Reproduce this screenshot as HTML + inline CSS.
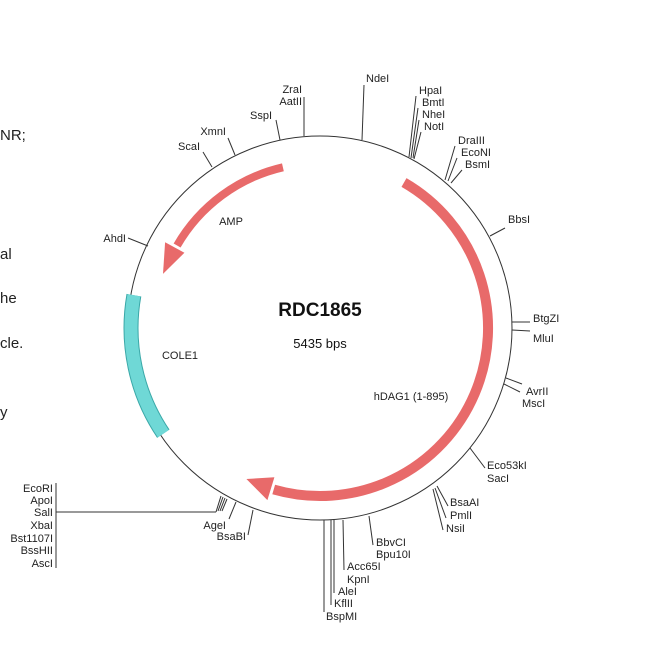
<!DOCTYPE html>
<html><head><meta charset="utf-8"><style>
html,body{margin:0;padding:0;background:#fff;width:650px;height:650px;overflow:hidden}
svg text{font-family:"Liberation Sans",sans-serif}
</style></head><body>
<svg width="650" height="650" viewBox="0 0 650 650" xmlns="http://www.w3.org/2000/svg">
<g font-size="15" fill="#222">
<text x="0" y="140">NR;</text>
<text x="0" y="259">al</text>
<text x="0" y="303">he</text>
<text x="0" y="348">cle.</text>
<text x="0" y="417">y</text>
</g>
<circle cx="320" cy="328" r="192" fill="none" stroke="#333" stroke-width="1"/>
<!-- COLE1 -->
<path d="M133.9,295.2 A189,189 0 0 0 163.3,433.7" fill="none" stroke="#3aa8a8" stroke-width="15"/>
<path d="M133.9,295.2 A189,189 0 0 0 163.3,433.7" fill="none" stroke="#6fd8d6" stroke-width="13"/>
<!-- AMP -->
<path d="M282.9,167.3 A165,165 0 0 0 177.1,245.5" fill="none" stroke="#e86a6a" stroke-width="8"/>
<polygon points="184.4,252.8 165.1,242.2 163,273.9" fill="#e86a6a"/>
<!-- hDAG1 -->
<path d="M404,182.5 A168,168 0 0 1 273.7,489.5" fill="none" stroke="#e86a6a" stroke-width="10"/>
<polygon points="274.4,477.2 267.4,500.1 246.4,479" fill="#e86a6a"/>
<g stroke="#333" stroke-width="1" fill="none">
<line x1="362" y1="140" x2="364" y2="85"/>
<line x1="304" y1="136" x2="304" y2="97"/>
<line x1="280" y1="140" x2="276" y2="120"/>
<line x1="235" y1="155" x2="228" y2="138"/>
<line x1="212" y1="167" x2="203" y2="152"/>
<line x1="409" y1="157" x2="416" y2="96"/>
<line x1="411" y1="158" x2="418" y2="108"/>
<line x1="413" y1="158" x2="419" y2="120"/>
<line x1="414" y1="159" x2="421" y2="132"/>
<line x1="445" y1="180" x2="455" y2="146"/>
<line x1="448" y1="181" x2="457" y2="158"/>
<line x1="451" y1="183" x2="462" y2="170"/>
<line x1="490" y1="236" x2="505" y2="228"/>
<line x1="512" y1="322" x2="530" y2="322"/>
<line x1="512" y1="330" x2="530" y2="331"/>
<line x1="506" y1="378" x2="522" y2="384"/>
<line x1="504" y1="384" x2="520" y2="392"/>
<line x1="470" y1="448" x2="485" y2="468"/>
<line x1="437" y1="486" x2="448" y2="506"/>
<line x1="435" y1="488" x2="446" y2="518"/>
<line x1="433" y1="489" x2="443" y2="530"/>
<line x1="369" y1="516" x2="373" y2="545"/>
<line x1="343" y1="520" x2="344" y2="570"/>
<line x1="334" y1="520" x2="334" y2="593"/>
<line x1="331" y1="520" x2="331" y2="605"/>
<line x1="324" y1="520" x2="324" y2="612"/>
<line x1="253" y1="510" x2="248" y2="535"/>
<line x1="236" y1="502" x2="229" y2="519"/>
<line x1="148" y1="246" x2="128" y2="238"/>
<line x1="221" y1="496" x2="216" y2="512"/>
<line x1="223" y1="497" x2="218" y2="511"/>
<line x1="225" y1="498" x2="220" y2="511"/>
<line x1="227" y1="499" x2="222" y2="511"/>
<line x1="216" y1="512" x2="56" y2="512"/>
<line x1="56" y1="483" x2="56" y2="568"/>
</g>
<g font-size="11" fill="#222">
<text x="366" y="82">NdeI</text>
<text x="302" y="93" text-anchor="end">ZraI</text>
<text x="302" y="105" text-anchor="end">AatII</text>
<text x="272" y="119" text-anchor="end">SspI</text>
<text x="226" y="135" text-anchor="end">XmnI</text>
<text x="200" y="150" text-anchor="end">ScaI</text>
<text x="419" y="94">HpaI</text>
<text x="422" y="106">BmtI</text>
<text x="422" y="118">NheI</text>
<text x="424" y="130">NotI</text>
<text x="458" y="144">DraIII</text>
<text x="461" y="156">EcoNI</text>
<text x="465" y="168">BsmI</text>
<text x="508" y="223">BbsI</text>
<text x="533" y="322">BtgZI</text>
<text x="533" y="342">MluI</text>
<text x="526" y="395">AvrII</text>
<text x="522" y="407">MscI</text>
<text x="487" y="469">Eco53kI</text>
<text x="487" y="482">SacI</text>
<text x="450" y="506">BsaAI</text>
<text x="450" y="519">PmlI</text>
<text x="446" y="532">NsiI</text>
<text x="376" y="546">BbvCI</text>
<text x="376" y="558">Bpu10I</text>
<text x="347" y="570">Acc65I</text>
<text x="347" y="583">KpnI</text>
<text x="338" y="595">AleI</text>
<text x="334" y="607">KflII</text>
<text x="326" y="620">BspMI</text>
<text x="246" y="540" text-anchor="end">BsaBI</text>
<text x="226" y="529" text-anchor="end">AgeI</text>
<text x="126" y="242" text-anchor="end">AhdI</text>
<text x="53" y="492" text-anchor="end">EcoRI</text>
<text x="53" y="504" text-anchor="end">ApoI</text>
<text x="53" y="516" text-anchor="end">SalI</text>
<text x="53" y="529" text-anchor="end">XbaI</text>
<text x="53" y="542" text-anchor="end">Bst1107I</text>
<text x="53" y="554" text-anchor="end">BssHII</text>
<text x="53" y="567" text-anchor="end">AscI</text>
</g>
<text x="320" y="316" font-size="19" font-weight="bold" text-anchor="middle" fill="#111">RDC1865</text>
<text x="320" y="348" font-size="13" text-anchor="middle" fill="#111">5435 bps</text>
<text x="231" y="225" font-size="11" text-anchor="middle" fill="#222">AMP</text>
<text x="180" y="359" font-size="11" text-anchor="middle" fill="#222">COLE1</text>
<text x="411" y="400" font-size="11" text-anchor="middle" fill="#222">hDAG1 (1-895)</text>
</svg>
</body></html>
